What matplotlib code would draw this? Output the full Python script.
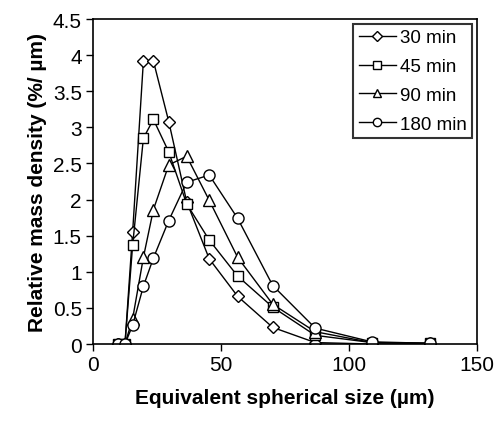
import numpy as np
import matplotlib
matplotlib.use('Agg')
import matplotlib.pyplot as plt

# Data
size_um = [9.9, 12.5, 15.5, 19.7, 23.6, 29.6, 36.6, 45.4, 56.5, 70.2,
           86.8, 108.9, 131.6]
dens_30 = [0, 0, 1.55, 3.92, 3.92, 3.08, 1.97, 1.18, 0.66, 0.23,
           0.02, 0.0, 0.0]
dens_45 = [0, 0, 1.37, 2.85, 3.11, 2.66, 1.94, 1.44, 0.94, 0.51,
           0.12, 0.02, 0.01]
dens_90 = [0, 0, 0.35, 1.20, 1.86, 2.48, 2.60, 1.99, 1.20, 0.55,
           0.17, 0.02, 0.01]
dens_180 = [0, 0, 0.26, 0.80, 1.19, 1.71, 2.24, 2.34, 1.74, 0.81,
            0.22, 0.03, 0.01]
labels = ['30 min', '45 min', '90 min', '180 min']

plt.rcParams['font.family'] = ['Liberation Sans', 'DejaVu Sans']
plt.rc('xtick', labelsize=15)
plt.rc('ytick', labelsize=15)

fig = plt.figure(figsize=[4.97, 4.31], dpi=100)
ax = fig.add_axes([0.187, 0.1995, 0.773, 0.754])

style = dict(color='black', linewidth=1.0, markerfacecolor='white',
             markeredgecolor='black', markeredgewidth=1.0)
ax.plot(size_um, dens_30, marker='D', markersize=6.5, label=labels[0],
        **style)
ax.plot(size_um, dens_45, marker='s', markersize=7.5, label=labels[1],
        **style)
ax.plot(size_um, dens_90, marker='^', markersize=8.5, label=labels[2],
        **style)
ax.plot(size_um, dens_180, marker='o', markersize=8, label=labels[3],
        **style)

ax.set_xlim(0, 150)
ax.set_ylim(0, 4.5)
ax.set_xticks([0, 50, 100, 150])
ax.set_yticks(np.arange(0, 4.51, 0.5))
ax.set_yticklabels(['0', '0.5', '1', '1.5', '2', '2.5', '3', '3.5', '4',
                    '4.5'])
ax.tick_params(direction='out', length=5, width=1, pad=3, colors='black')
for sp in ax.spines.values():
    sp.set_linewidth(1.2)

ax.set_xlabel('Equivalent spherical size (\u00b5m)', fontsize=15,
              fontweight='bold', labelpad=10)
ax.set_ylabel('Relative mass density (%/ \u00b5m)', fontsize=15,
              fontweight='bold', labelpad=4)

leg = ax.legend(loc='upper right', fontsize=13.5, frameon=True,
                fancybox=False, edgecolor='black', handlelength=2.0,
                handletextpad=0.2, labelspacing=0.62, borderpad=0.3,
                borderaxespad=0.25, markerscale=0.75)
leg.get_frame().set_linewidth(1.5)

plt.savefig('out.png', dpi=100)
